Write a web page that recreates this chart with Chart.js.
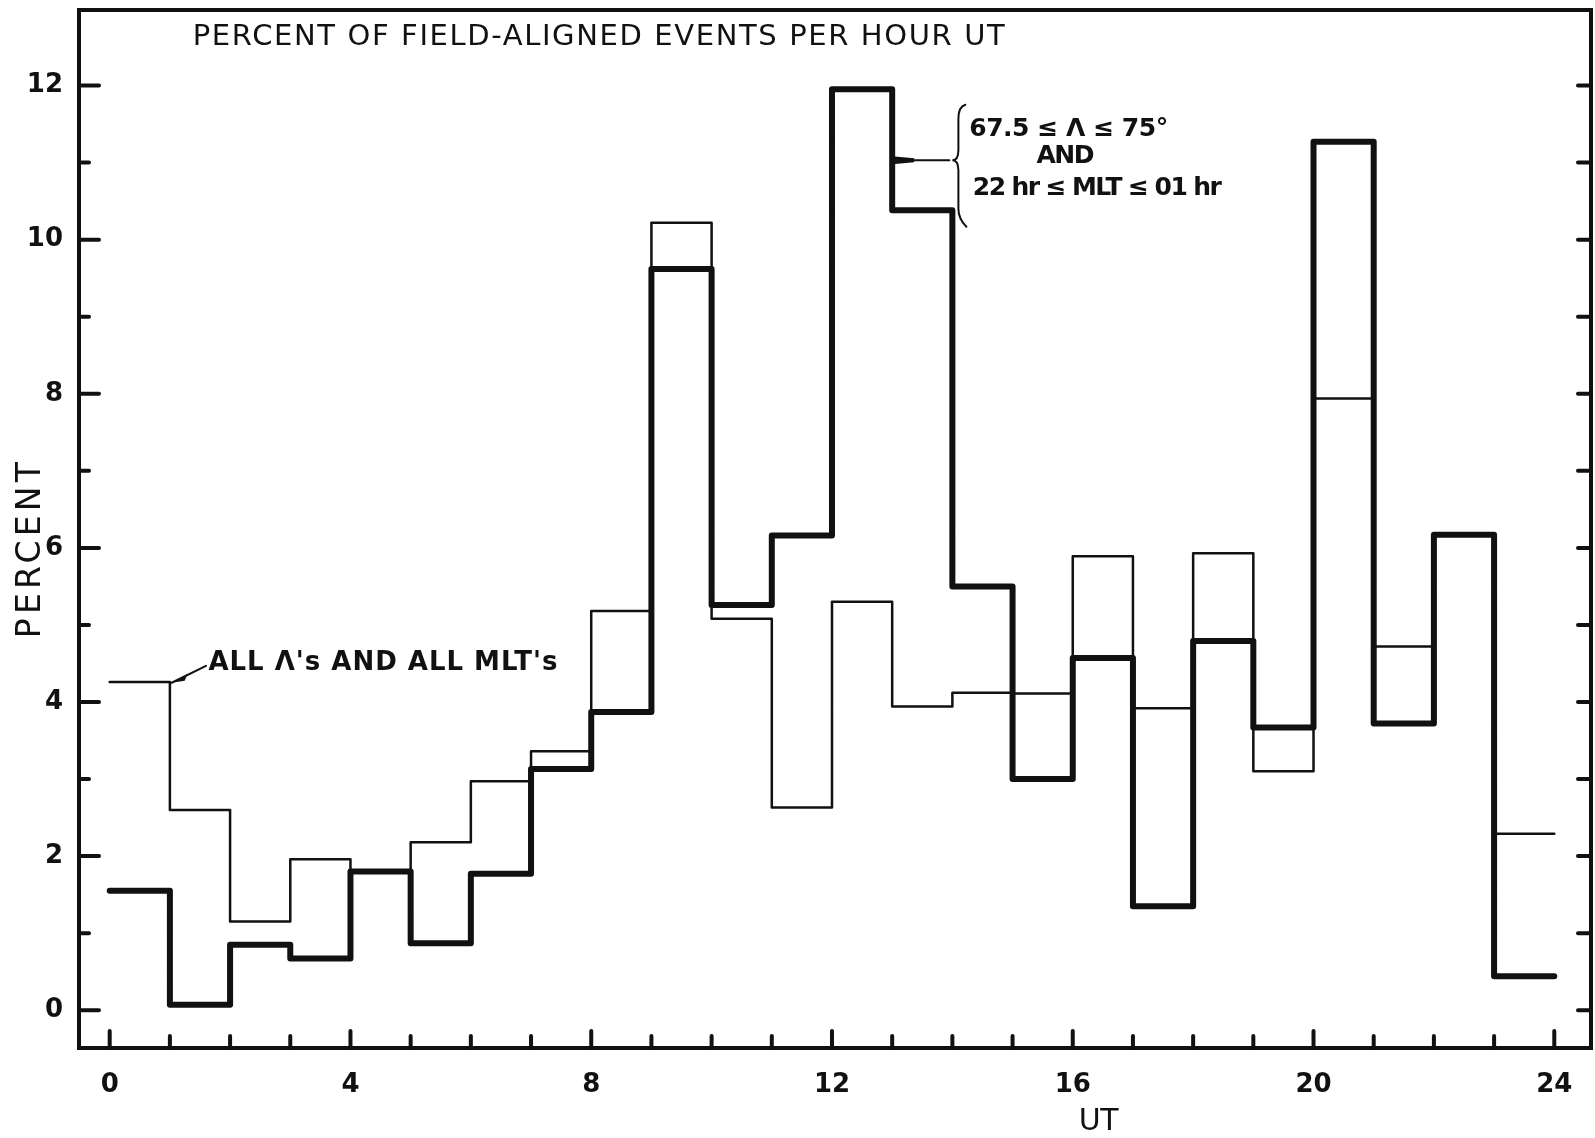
<!DOCTYPE html>
<html>
<head>
<meta charset="utf-8">
<script src="https://cdn.jsdelivr.net/npm/chart.js@4.4.1/dist/chart.umd.min.js"></script>
<style>
html, body { margin: 0; padding: 0; background: #fff; }
canvas { display: block; }
</style>
</head>
<body>
<canvas id="mycanvas" width="1595" height="1138"></canvas>
<script>
// start of each one-hour UT bin
var hours = [0, 1, 2, 3, 4, 5, 6, 7, 8, 9, 10, 11, 12, 13, 14, 15, 16, 17, 18, 19, 20, 21, 22, 23];
// all Λ's and all MLT's (thin line)
var allEvents = [4.26, 2.6, 1.15, 1.96, 1.8, 2.18, 2.97, 3.36, 5.18, 10.22, 5.08, 2.63, 5.3, 3.94, 4.12, 4.11, 5.89, 3.92, 5.93, 3.1, 7.94, 4.72, 6.17, 2.29];
// 67.5 <= Λ <= 75° and 22hr <= MLT <= 01hr (thick line)
var selectedEvents = [1.55, 0.07, 0.85, 0.67, 1.8, 0.87, 1.77, 3.13, 3.87, 9.62, 5.26, 6.16, 11.95, 10.38, 5.5, 3.0, 4.57, 1.35, 4.79, 3.67, 11.27, 3.72, 6.17, 0.44];

var xTicks = [0, 1, 2, 3, 4, 5, 6, 7, 8, 9, 10, 11, 12, 13, 14, 15, 16, 17, 18, 19, 20, 21, 22, 23, 24];
var yTicks = [0, 1, 2, 3, 4, 5, 6, 7, 8, 9, 10, 11, 12];
var xTickLabels = [0, 4, 8, 12, 16, 20, 24];
var yTickLabels = [0, 2, 4, 6, 8, 10, 12];

var FONT = "'DejaVu Sans', 'Liberation Sans', sans-serif";
var INK = '#111';

function stepPoints(values) {
	var pts = [];
	for (var i in hours) {
		pts.push({x: hours[i], y: values[i]});
	}
	// close the last bin at the end of the hour
	pts.push({x: hours[hours.length - 1] + 1, y: values[values.length - 1]});
	return pts;
}

// draw text stretched with letter spacing to a given width
function fitText(ctx, text, x, y, width) {
	ctx.letterSpacing = '0px';
	var w = ctx.measureText(text).width;
	var sp = (width - w) / (text.length - 1);
	ctx.letterSpacing = sp + 'px';
	ctx.fillText(text, x, y);
	ctx.letterSpacing = '0px';
}

var framePlugin = {
	id: 'frame',
	afterDraw: function(chart) {
		var ctx = chart.ctx;
		var a = chart.chartArea;
		var xs = chart.scales.x, ys = chart.scales.y;
		ctx.save();
		ctx.strokeStyle = INK;
		ctx.fillStyle = INK;
		ctx.lineCap = 'round';

		// box
		ctx.lineWidth = 4;
		ctx.strokeRect(a.left, a.top, a.right - a.left, a.bottom - a.top);

		// inward ticks
		ctx.lineWidth = 4;
		yTicks.forEach(function(v) {
			var py = ys.getPixelForValue(v);
			var len = yTickLabels.indexOf(v) >= 0 ? 20 : 10;
			ctx.beginPath();
			ctx.moveTo(a.left, py); ctx.lineTo(a.left + len, py);
			ctx.moveTo(a.right, py); ctx.lineTo(a.right - 13, py);
			ctx.stroke();
		});
		xTicks.forEach(function(v) {
			var px = xs.getPixelForValue(v);
			var len = xTickLabels.indexOf(v) >= 0 ? 17 : 12;
			ctx.beginPath();
			ctx.moveTo(px, a.bottom); ctx.lineTo(px, a.bottom - len);
			ctx.stroke();
		});

		// axis titles
		ctx.textBaseline = 'middle';
		ctx.textAlign = 'left';
		ctx.font = '30px ' + FONT;
		fitText(ctx, 'U T', xs.getPixelForValue(16.43) - 20, ys.getPixelForValue(-1.45), 40);
		ctx.save();
		ctx.translate(31, ys.getPixelForValue(5.97));
		ctx.rotate(-Math.PI / 2);
		ctx.font = '33px ' + FONT;
		fitText(ctx, 'PERCENT', -88, 0, 176);
		ctx.restore();

		// heading inside the frame
		ctx.font = '29px ' + FONT;
		fitText(ctx, 'PERCENT OF FIELD-ALIGNED EVENTS PER HOUR UT', xs.getPixelForValue(1.38), ys.getPixelForValue(12.62), 812);

		// label for the thin curve
		ctx.font = 'bold 26px ' + FONT;
		fitText(ctx, "ALL \u039B's AND ALL MLT's", xs.getPixelForValue(1.64), ys.getPixelForValue(4.5), 349);
		ctx.lineWidth = 2;
		var p0x = xs.getPixelForValue(1.03), p0y = ys.getPixelForValue(4.25);
		var p1x = xs.getPixelForValue(1.6), p1y = ys.getPixelForValue(4.47);
		ctx.beginPath();
		ctx.moveTo(p0x, p0y); ctx.lineTo(p1x, p1y);
		ctx.stroke();
		ctx.beginPath();
		ctx.moveTo(p0x, p0y);
		ctx.lineTo(p0x + 16, p0y - 9);
		ctx.lineTo(p0x + 13, p0y - 2);
		ctx.closePath();
		ctx.fill();

		// label for the thick curve, with brace and pointer
		var bx = xs.getPixelForValue(14.1);
		var tipX = xs.getPixelForValue(14.0);
		var top = ys.getPixelForValue(11.75), mid = ys.getPixelForValue(11.03), bot = ys.getPixelForValue(10.22);
		ctx.lineWidth = 2;
		ctx.beginPath();
		ctx.moveTo(bx + 7, top);
		ctx.quadraticCurveTo(bx, top + 2, bx, top + 14);
		ctx.lineTo(bx, mid - 10);
		ctx.quadraticCurveTo(bx, mid, tipX, mid);
		ctx.quadraticCurveTo(bx, mid, bx, mid + 10);
		ctx.lineTo(bx, bot - 14);
		ctx.quadraticCurveTo(bx, bot - 4, bx + 8, bot + 4);
		ctx.stroke();

		var l0 = xs.getPixelForValue(13.0), l1 = xs.getPixelForValue(13.95);
		ctx.beginPath();
		ctx.moveTo(l0, mid); ctx.lineTo(l1, mid);
		ctx.stroke();
		ctx.beginPath();
		ctx.moveTo(l0, mid - 4);
		ctx.lineTo(l0 + 22, mid - 2);
		ctx.lineTo(l0 + 22, mid + 2);
		ctx.lineTo(l0, mid + 4);
		ctx.closePath();
		ctx.fill();

		ctx.font = 'bold 25px ' + FONT;
		fitText(ctx, '67.5 \u2264 \u039B \u2264 75\u00B0', xs.getPixelForValue(14.28), ys.getPixelForValue(11.43), 199);
		fitText(ctx, 'AND', xs.getPixelForValue(15.88) - 29, ys.getPixelForValue(11.08), 58);
		fitText(ctx, '22 hr \u2264 MLT \u2264 01 hr', xs.getPixelForValue(14.34), ys.getPixelForValue(10.66), 249);

		ctx.restore();
	}
};

var ctx = document.getElementById('mycanvas');

var chart = new Chart(ctx, {
	type: 'line',
	data: {
		datasets: [
			{
				label: "All \u039B's and all MLT's",
				data: stepPoints(allEvents),
				stepped: 'before',
				borderColor: INK,
				borderWidth: 2.5,
				borderJoinStyle: 'round',
				borderCapStyle: 'round',
				pointRadius: 0,
				fill: false
			},
			{
				label: '67.5 \u2264 \u039B \u2264 75\u00B0 and 22hr \u2264 MLT \u2264 01hr',
				data: stepPoints(selectedEvents),
				stepped: 'before',
				borderColor: INK,
				borderWidth: 6,
				borderJoinStyle: 'round',
				borderCapStyle: 'round',
				pointRadius: 0,
				fill: false
			}
		]
	},
	options: {
		responsive: false,
		animation: false,
		layout: { padding: { top: 10, right: 4, left: 0, bottom: 0 } },
		plugins: {
			legend: { display: false },
			tooltip: { enabled: false }
		},
		scales: {
			x: {
				type: 'linear',
				min: -0.51,
				max: 24.61,
				grid: { display: false },
				border: { display: false },
				ticks: {
					color: INK,
					font: { family: FONT, size: 26, weight: 'bold' },
					padding: 14,
					autoSkip: false,
					maxRotation: 0
				},
				afterBuildTicks: function(scale) {
					scale.ticks = xTickLabels.map(function(v) { return {value: v}; });
				},
				afterFit: function(scale) {
					scale.height = 90;
					scale.paddingLeft = 0;
					scale.paddingRight = 0;
				}
			},
			y: {
				type: 'linear',
				min: -0.49,
				max: 12.98,
				grid: { display: false },
				border: { display: false },
				ticks: {
					color: INK,
					font: { family: FONT, size: 26, weight: 'bold' },
					padding: 8,
					autoSkip: false
				},
				afterBuildTicks: function(scale) {
					scale.ticks = yTickLabels.map(function(v) { return {value: v}; });
				},
				afterFit: function(scale) {
					scale.width = 79;
					scale.paddingTop = 0;
					scale.paddingBottom = 0;
				}
			}
		}
	},
	plugins: [framePlugin]
});
</script>
</body>
</html>
